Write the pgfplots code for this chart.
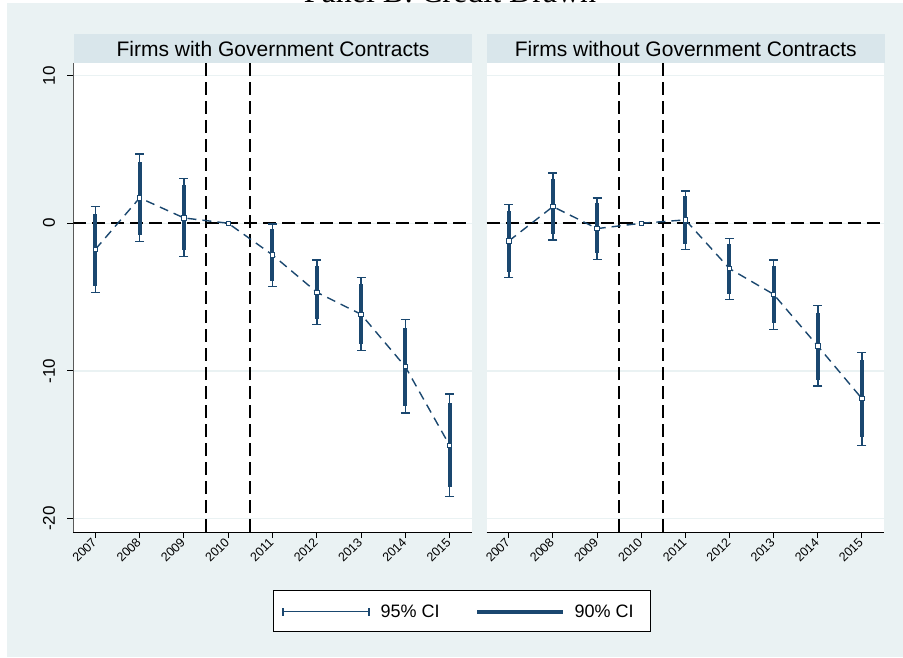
\documentclass[border=0pt]{standalone}
\usepackage{pgfplots}
\pgfplotsset{compat=1.18}
\usepackage{pgfplotstable}
\usepackage{fontspec}
\setmainfont{Liberation Sans}
\newfontfamily\titlefont{Liberation Serif}
\definecolor{bgc}{HTML}{EAF2F3}
\definecolor{stripc}{HTML}{D9E6EB}
\definecolor{navy}{HTML}{1A476F}
\definecolor{gridc}{HTML}{EAF2F3}

% Firms with government contracts
\pgfplotstableread{
x y lo95 hi95 lo90 hi90
2007 -1.76 -4.70 1.15 -4.22 0.63
2008 1.72 -1.22 4.70 -0.79 4.13
2009 0.36 -2.26 3.02 -1.81 2.57
2010 0 0 0 0 0
2011 -2.14 -4.27 -0.05 -3.88 -0.41
2012 -4.67 -6.84 -2.48 -6.48 -2.87
2013 -6.16 -8.60 -3.68 -8.17 -4.13
2014 -9.71 -12.86 -6.52 -12.37 -7.09
2015 -15.03 -18.48 -11.56 -17.87 -12.19
}\gov

% Firms without government contracts
\pgfplotstableread{
x y lo95 hi95 lo90 hi90
2007 -1.20 -3.68 1.26 -3.27 0.84
2008 1.13 -1.13 3.41 -0.72 3.00
2009 -0.36 -2.44 1.72 -2.03 1.38
2010 0 0 0 0 0
2011 0.23 -1.76 2.19 -1.38 1.85
2012 -3.07 -5.17 -1.04 -4.79 -1.42
2013 -4.81 -7.18 -2.48 -6.77 -2.89
2014 -8.31 -11.02 -5.58 -10.61 -6.07
2015 -11.87 -15.03 -8.74 -14.49 -9.26
}\nogov

\tikzset{refline/.style={black, line width=1.8pt, dash pattern=on 13pt off 6pt}}

\pgfplotsset{
  panel/.style={
    scale only axis, height=469pt,
    xmin=2006.5, xmax=2015.5, ymin=-20.9, ymax=10.85,
    axis background/.style={fill=white},
    axis x line*=bottom, axis y line*=left,
    xtick={2007,2008,...,2015},
    ytick={-20,-10,0,10},
    ymajorgrids, grid style={gridc, line width=1.5pt},
    tick align=outside, major tick length=6pt,
    major tick style={black, line width=1pt},
    x axis line style={black, line width=1pt},
    xticklabel style={xshift=-1pt, yshift=-2pt, rotate=45, anchor=east, inner sep=0pt,
      font=\fontsize{12.5}{12.5}\selectfont},
    /pgf/number format/.cd, 1000 sep={}, assume math mode=true, /pgfplots/.cd,
  },
  ci95/.style={draw=none, mark=none, forget plot,
    skip coords between index={3}{4},
    error bars/.cd, y dir=both, y explicit,
    error bar style={draw=navy, line width=1.5pt, solid},
    error mark options={rotate=90, draw=navy, line width=1.5pt, mark size=4.5pt}},
  ci90/.style={draw=none, mark=none, forget plot,
    skip coords between index={3}{4},
    error bars/.cd, y dir=both, y explicit, error mark=none,
    error bar style={draw=navy, line width=4pt, solid}},
  est/.style={navy, line width=1.4pt, dash pattern=on 9pt off 6pt,
    mark=square*, mark size=2.2pt,
    mark options={solid, fill=white, draw=navy, line width=0.9pt}},
}

\begin{document}
\begin{tikzpicture}
\useasboundingbox (0,0) rectangle (903pt,657pt);
\fill[white] (0,0) rectangle (903pt,657pt);
\fill[bgc] (7pt,0) rectangle (903pt,654pt);
\node[anchor=base, font=\titlefont\fontsize{32}{32}\selectfont] at (450pt,654pt) {Panel B: Credit Drawn};

% strips
\fill[stripc] (74pt,594pt) rectangle (472pt,623pt);
\node[font=\fontsize{21}{21}\selectfont] at (273pt,608.5pt) {Firms with Government Contracts};
\fill[stripc] (486.7pt,594pt) rectangle (885pt,623pt);
\node[font=\fontsize{21}{21}\selectfont] at (685.8pt,608.5pt) {Firms without Government Contracts};

% left panel
\begin{axis}[panel, width=398.4pt, at={(73.3pt,125pt)}, anchor=south west,
  y axis line style={black!65, line width=1pt},
  yticklabel style={xshift=-12pt, rotate=90, anchor=south, inner sep=0pt,
    font=\fontsize{17}{17}\selectfont}]
  \draw[refline] (axis cs:2006.5,0) -- (axis cs:2015.5,0);
  \draw[refline] (axis cs:2009.5,-20.9) -- (axis cs:2009.5,10.85);
  \draw[refline] (axis cs:2010.5,-20.9) -- (axis cs:2010.5,10.85);
  \addplot[ci95] table[x=x, y=y,
    y error plus expr=\thisrow{hi95}-\thisrow{y},
    y error minus expr=\thisrow{y}-\thisrow{lo95}] {\gov};
  \addplot[ci90] table[x=x, y=y,
    y error plus expr=\thisrow{hi90}-\thisrow{y},
    y error minus expr=\thisrow{y}-\thisrow{lo90}] {\gov};
  \addplot[est] table[x=x, y=y] {\gov};
\end{axis}

% right panel
\begin{axis}[panel, width=397.3pt, at={(486.7pt,125pt)}, anchor=south west,
  y axis line style={draw=none}, ytick style={draw=none}, yticklabels={}]
  \draw[refline] (axis cs:2006.5,0) -- (axis cs:2015.5,0);
  \draw[refline] (axis cs:2009.5,-20.9) -- (axis cs:2009.5,10.85);
  \draw[refline] (axis cs:2010.5,-20.9) -- (axis cs:2010.5,10.85);
  \addplot[ci95] table[x=x, y=y,
    y error plus expr=\thisrow{hi95}-\thisrow{y},
    y error minus expr=\thisrow{y}-\thisrow{lo95}] {\nogov};
  \addplot[ci90] table[x=x, y=y,
    y error plus expr=\thisrow{hi90}-\thisrow{y},
    y error minus expr=\thisrow{y}-\thisrow{lo90}] {\nogov};
  \addplot[est] table[x=x, y=y] {\nogov};
\end{axis}

% legend
\draw[black, line width=0.8pt, fill=white] (273.3pt,25.3pt) rectangle (650pt,67pt);
\draw[navy, line width=1.2pt] (283pt,45.5pt) -- (369pt,45.5pt);
\draw[navy, line width=1.2pt] (283pt,41.5pt) -- (283pt,49.5pt);
\draw[navy, line width=1.2pt] (369pt,41.5pt) -- (369pt,49.5pt);
\node[anchor=west, font=\fontsize{18}{18}\selectfont] at (377pt,45.5pt) {95\% CI};
\draw[navy, line width=4pt] (477pt,45.5pt) -- (563pt,45.5pt);
\node[anchor=west, font=\fontsize{18}{18}\selectfont] at (571pt,45.5pt) {90\% CI};
\end{tikzpicture}
\end{document}
